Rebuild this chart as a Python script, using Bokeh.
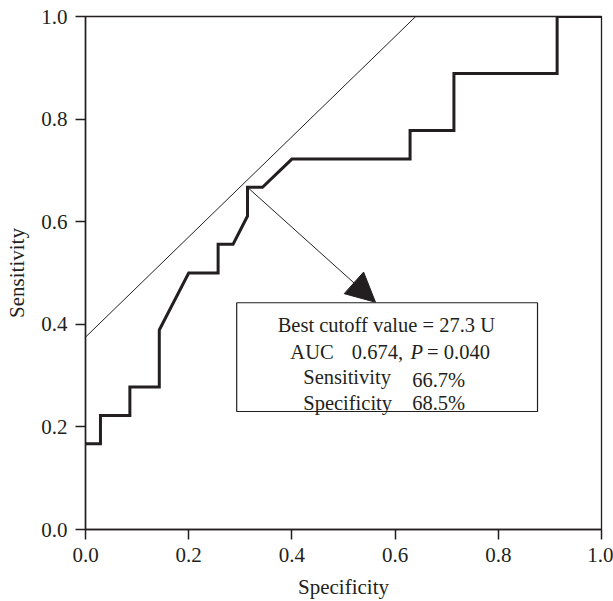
from bokeh.plotting import figure
from bokeh.models import Range1d, Arrow, NormalHead, NumeralTickFormatter, FixedTicker
from bokeh.core.properties import value
from bokeh.embed import file_html
from bokeh.resources import INLINE

# ROC curve (x = specificity axis as labelled, y = sensitivity)
roc_x = [0.0, 0.029, 0.029, 0.086, 0.086, 0.143, 0.143, 0.200, 0.257, 0.257, 0.286,
         0.314, 0.314, 0.343, 0.400, 0.629, 0.629, 0.714, 0.714, 0.914, 0.914, 1.0]
roc_y = [0.167, 0.167, 0.222, 0.222, 0.278, 0.278, 0.389, 0.500, 0.500, 0.556, 0.556,
         0.611, 0.667, 0.667, 0.722, 0.722, 0.778, 0.778, 0.889, 0.889, 1.0, 1.0]

# tangent reference line
ref_x = [0.0, 0.64]
ref_y = [0.375, 1.0]

# best cutoff point and annotation arrow end
best_point = (0.314, 0.667)
arrow_end = (0.562, 0.443)

# annotation box (data coordinates)
box_left, box_right, box_bottom, box_top = 0.293, 0.876, 0.230, 0.442

ticks = [0.0, 0.2, 0.4, 0.6, 0.8, 1.0]

FONT = "Liberation Serif"
TXT = "#231f20"

p = figure(width=613, height=601, output_backend="svg", toolbar_location=None,
           x_range=Range1d(0, 1), y_range=Range1d(0, 1),
           min_border_left=85, min_border_top=16, min_border_right=12, min_border_bottom=70)
p.background_fill_color = "white"
p.border_fill_color = "white"
p.outline_line_color = "#231f20"
p.outline_line_width = 1.3
p.xgrid.visible = False
p.ygrid.visible = False

for ax in (p.xaxis[0], p.yaxis[0]):
    ax.ticker = FixedTicker(ticks=ticks)
    ax.formatter = NumeralTickFormatter(format="0.0")
    ax.major_tick_out = 10
    ax.major_tick_in = 0
    ax.minor_tick_out = 0
    ax.minor_tick_in = 0
    ax.axis_line_color = "#231f20"
    ax.axis_line_width = 1.5
    ax.major_tick_line_color = "#231f20"
    ax.major_tick_line_width = 1.5
    ax.major_label_text_font = FONT
    ax.major_label_text_font_size = "21px"
    ax.major_label_text_color = TXT
    ax.major_label_standoff = 8
    ax.axis_label_text_font = FONT
    ax.axis_label_text_font_size = "21px"
    ax.axis_label_text_font_style = "normal"
    ax.axis_label_text_color = TXT

p.xaxis.axis_label = "Specificity"
p.yaxis.axis_label = "Sensitivity"
p.xaxis.axis_label_standoff = 10
p.yaxis.axis_label_standoff = 9

# reference line
p.line(ref_x, ref_y, line_color="#231f20", line_width=1)

# ROC curve
p.line(roc_x, roc_y, line_color="#231f20", line_width=3, line_join="miter")

# arrow
p.add_layout(Arrow(x_start=best_point[0], y_start=best_point[1],
                   x_end=arrow_end[0], y_end=arrow_end[1],
                   line_color="#231f20", line_width=1,
                   end=NormalHead(size=29, fill_color="#231f20", line_color="#231f20")))

# annotation box
p.quad(left=[box_left], right=[box_right], bottom=[box_bottom], top=[box_top],
       fill_color="white", line_color="#231f20", line_width=1.2)

tf = value(FONT)
fs = value("20.5px")
p.text(x=[0.583], y=[0.398], text=["Best cutoff value = 27.3 U"], text_font=tf,
       text_font_size=fs, text_align="center", text_baseline="alphabetic", text_color=TXT)
p.text(x=[0.397, 0.516], y=[0.346, 0.346], text=["AUC", "0.674,"], text_font=tf,
       text_font_size=fs, text_align="left", text_baseline="alphabetic", text_color=TXT)
p.text(x=[0.630], y=[0.346], text=["P"], text_font=tf, text_font_style="italic",
       text_font_size=fs, text_align="left", text_baseline="alphabetic", text_color=TXT)
p.text(x=[0.662], y=[0.346], text=["= 0.040"], text_font=tf,
       text_font_size=fs, text_align="left", text_baseline="alphabetic", text_color=TXT)
p.text(x=[0.422, 0.422], y=[0.297, 0.2466], text=["Sensitivity", "Specificity"], text_font=tf,
       text_font_size=fs, text_align="left", text_baseline="alphabetic", text_color=TXT)
p.text(x=[0.633, 0.633], y=[0.291, 0.2466], text=["66.7%", "68.5%"], text_font=tf,
       text_font_size=fs, text_align="left", text_baseline="alphabetic", text_color=TXT)

open("out.html", "w").write(file_html(p, INLINE))
